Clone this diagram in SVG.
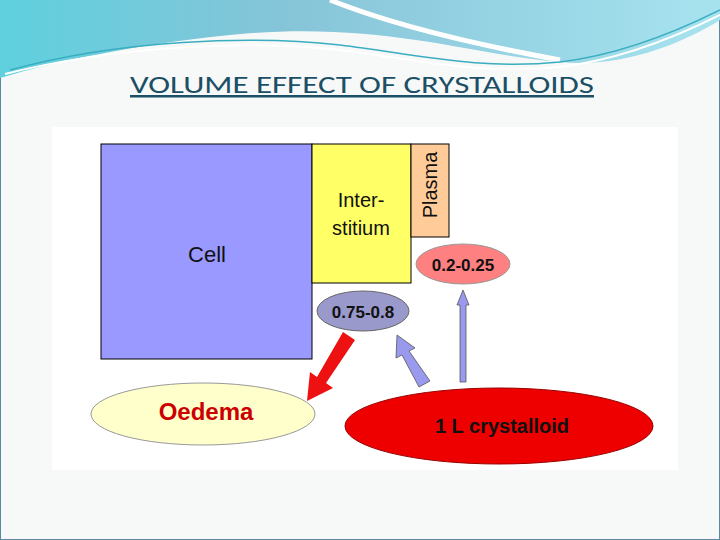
<svg xmlns="http://www.w3.org/2000/svg" width="720" height="540" viewBox="0 0 720 540">
<style>
.t{font-family:"Liberation Sans",Arial,sans-serif;fill:#111}
.b{font-weight:bold}
.box{stroke:#000;stroke-width:1}
</style>
<defs>
<linearGradient id="sky" x1="0" y1="0" x2="1" y2="0"><stop offset="0" stop-color="#5fd0de"/><stop offset="0.4" stop-color="#86c4d8"/><stop offset="1" stop-color="#a7e3ef"/></linearGradient>
</defs>
<rect width="720" height="540" fill="#f7f8f8"/>
<rect x="0.5" y="0.5" width="719" height="539" fill="none" stroke="#5a8aa0"/>
<path d="M0 0H720V20C680 45 620 68 560 62C470 55 380 20 230 35C140 44 60 60 0 78Z" fill="url(#sky)"/>
<path d="M330 0C380 20 450 40 560 60" fill="none" stroke="#fff" stroke-width="5"/>
<path d="M10 70C120 40 250 35 340 45C420 55 480 70 560 62C620 55 680 30 720 10" fill="none" stroke="#3aaec0" stroke-width="1.5"/>
<path d="M5 74C120 45 250 40 340 50C420 60 480 75 560 67C620 60 680 35 720 15" fill="none" stroke="#fff" stroke-width="2"/>
<text x="130" y="93" textLength="464" lengthAdjust="spacingAndGlyphs" font-family="Carlito,'Liberation Sans',sans-serif" font-size="25" fill="#1b4f66" text-decoration="underline">VOLUME EFFECT OF CRYSTALLOIDS</text>
<rect x="52" y="127" width="626" height="343" fill="#fff"/>
<g id="cell"><rect class="box" x="101" y="144" width="211" height="215" fill="#9999ff"/><text class="t" x="207" y="262" font-size="22" text-anchor="middle">Cell</text></g>
<g id="interstitium"><rect class="box" x="312" y="144" width="99" height="139" fill="#ffff66"/><text class="t" x="361" y="207" font-size="20" text-anchor="middle">Inter-</text><text class="t" x="361" y="235" font-size="20" text-anchor="middle">stitium</text></g>
<g id="plasma"><rect class="box" x="411" y="144" width="38" height="93" fill="#ffcc99"/><text class="t" x="0" y="0" font-size="20" text-anchor="middle" transform="translate(437,185) rotate(-90)">Plasma</text></g>
<g id="v1"><ellipse cx="463" cy="264" rx="47" ry="20" fill="#ff8080" stroke="#999"/><text class="t b" x="463" y="271" font-size="17" text-anchor="middle">0.2-0.25</text></g>
<g id="v2"><ellipse cx="363" cy="311" rx="46" ry="20" fill="#9999cc" stroke="#666"/><text class="t b" x="363" y="318" font-size="17" text-anchor="middle">0.75-0.8</text></g>
<g id="oedema"><ellipse cx="203" cy="414" rx="112" ry="31" fill="#ffffcc" stroke="#999"/><text class="b" x="206" y="420" font-family="'Liberation Sans',Arial,sans-serif" font-size="24" fill="#cc0000" text-anchor="middle">Oedema</text></g>
<g id="crystalloid"><ellipse cx="499" cy="426" rx="154" ry="38" fill="#ee0000" stroke="#990000"/><text class="t b" x="502" y="433" font-size="20" text-anchor="middle">1 L crystalloid</text></g>
<g id="connectors">
<polygon points="343,332 355,340 326,383 333,388 307,401 310,372 317,377" fill="#ee1111"/>
<polygon points="430,381 419,387 402,355 396,358 397,335 415,348 409,351" fill="#9999ee" stroke="#555" stroke-width="0.8"/>
<polygon points="460,382 466,382 466,305 469,305 463,290 457,305 460,305" fill="#9999ee" stroke="#555" stroke-width="0.8"/>
</g>
</svg>
